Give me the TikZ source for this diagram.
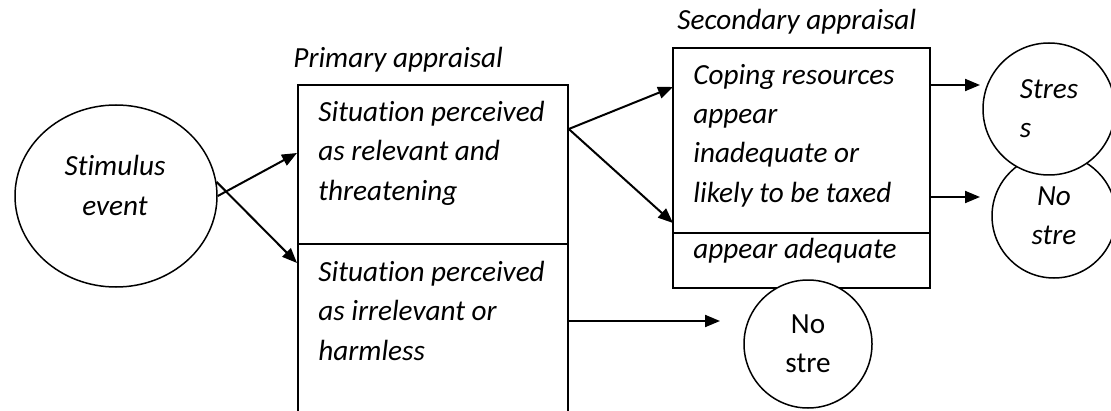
\documentclass[tikz,border=0pt]{standalone}
\usepackage{fontspec}
\setmainfont{Carlito}[Ligatures=NoCommon]
\usetikzlibrary{shapes.geometric,arrows.meta}

\begin{document}
\begin{tikzpicture}[x=0.5pt,y=-0.5pt,>={Triangle[length=7.5pt,width=6pt]},
   txt/.style={font=\itshape\fontsize{14.6}{19.6}\selectfont, inner sep=0pt, align=left, anchor=base west},
   box/.style={draw, rectangle, line width=0.75pt, inner sep=0pt},
   circ/.style={draw, circle, line width=0.75pt, inner sep=0pt, font=\itshape\fontsize{14.6}{19.5}\selectfont},
   arr/.style={->, line width=1pt}]
 \clip (0,0) rectangle (1111,411);
 \node (stim) [draw, ellipse, line width=0.75pt, minimum width=101pt, minimum height=91pt] at (116,196) {};
 \node (stimtxt) [txt, align=center, anchor=base] at (115,215) {Stimulus\\event};
 \node (primlbl) [txt] at (293,68) {Primary appraisal};
 \node (seclbl) [txt] at (677,30) {Secondary appraisal};
 \node (prim1) [box, minimum width=135pt, minimum height=79.5pt] at (433,164.5) {};
 \node (prim2) [box, minimum width=135pt, minimum height=98pt] at (433,342) {};
 \node (sec1) [box, minimum width=128.5pt, minimum height=92.5pt] at (801.5,140.5) {};
 \node (sec2) [box, minimum width=128.5pt, minimum height=27.5pt] at (801.5,260.5) {};
 \node (prim1txt) [txt] at (318,200) {Situation perceived\\as relevant and\\threatening};
 \node (prim2txt) [txt] at (318,360) {Situation perceived\\as irrelevant or\\harmless};
 \node (sec1txt) [txt] at (693,202) {Coping resources\\appear\\inadequate or\\likely to be taxed};
 \node (sec2txt) [txt] at (693,258) {appear adequate};
 \node (nostre1) [circ, fill=white, minimum size=62pt, align=center] at (1054,216) {No\\stre};
 \node (stress) [circ, fill=white, minimum size=66pt, align=left] at (1049,109) {Stres\\s};
 \node (nostre2) [circ, fill=white, minimum size=64pt, align=center, font=\upshape\fontsize{14.6}{19.5}\selectfont] at (808,344) {No\\stre};
 \coordinate (a1) at (297,153);
 \coordinate (a2) at (297,263);
 \coordinate (b1) at (673,87);
 \coordinate (b2) at (673,223);
 \coordinate (c1) at (980,85);
 \coordinate (c2) at (980,197);
 \coordinate (d1) at (720,321);
 \draw [arr] (stim.east) -- (a1);
 \draw [arr] (stim.8) -- (a2);
 \draw [arr] ([yshift=17.75pt]prim1.east) -- (b1);
 \draw [arr] ([yshift=17.75pt]prim1.east) -- (b2);
 \draw [arr] (sec1.east |- c1) -- (c1);
 \draw [arr] (sec1.east |- c2) -- (c2);
 \draw [arr] (prim2.east |- d1) -- (d1);
\end{tikzpicture}
\end{document}
